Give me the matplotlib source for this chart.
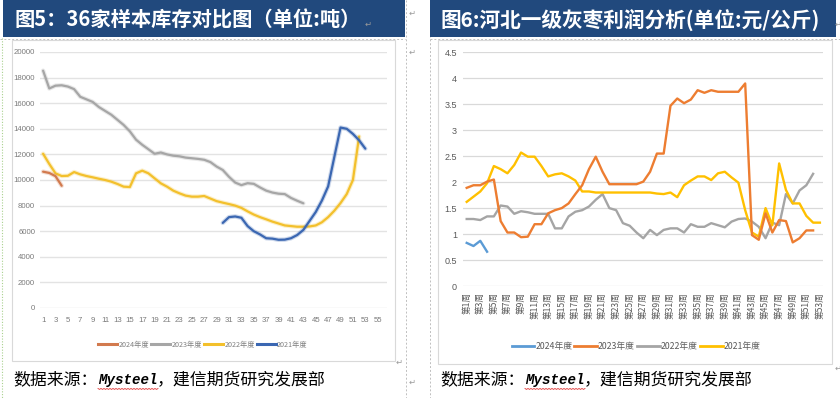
import matplotlib
matplotlib.use('Agg')
import numpy as np
import matplotlib.pyplot as plt
from matplotlib.patches import Rectangle
from matplotlib.lines import Line2D

plt.rcParams['font.family'] = ['Noto Sans CJK SC', 'DejaVu Sans']

# ---------------- data: left chart (36家样本库存, 吨) ----------------
left_series = ['2024年度', '2023年度', '2022年度', '2021年度']
inv_2024_weeks = list(range(1, 5))
inv_2024 = [10650, 10550, 10300, 9550]
inv_2023_weeks = list(range(1, 44))
inv_2023 = [18540, 17150, 17370, 17400, 17300, 17100, 16500, 16300, 16100, 15700,
            15400, 15100, 14700, 14300, 13800, 13150, 12750, 12400, 12050, 12150,
            12000, 11900, 11850, 11750, 11700, 11650, 11580, 11400, 11050, 10780,
            10250, 9800, 9600, 9750, 9700, 9420, 9170, 9020, 8930, 8900,
            8600, 8380, 8180]
inv_2022_weeks = list(range(1, 53))
inv_2022 = [12050, 11250, 10520, 10310, 10330, 10620, 10440, 10310, 10210, 10100,
            10000, 9870, 9690, 9480, 9450, 10520, 10730, 10520, 10130, 9740,
            9480, 9170, 8960, 8780, 8700, 8700, 8750, 8550, 8350, 8230,
            8120, 8000, 7820, 7550, 7300, 7100, 6930, 6750, 6600, 6450,
            6400, 6350, 6350, 6370, 6450, 6700, 7100, 7600, 8200, 8900,
            10000, 13400]
inv_2021_weeks = list(range(30, 54))
inv_2021 = [6650, 7100, 7150, 7050, 6400, 6000, 5750, 5450, 5420, 5330,
            5340, 5450, 5700, 6100, 6800, 7500, 8400, 9500, 11800, 14100,
            14000, 13600, 13100, 12450]
left_xticks = list(range(1, 56, 2))
left_yticks = list(range(0, 20001, 2000))

# ---------------- data: right chart (河北一级灰枣利润, 元/公斤) ----------------
right_series = ['2024年度', '2023年度', '2022年度', '2021年度']
week_labels = ['第%d周' % n for n in range(1, 54)]
p_2024 = [0.83, 0.77, 0.87, 0.66]
p_2023 = [1.89, 1.94, 1.94, 2.01, 2.05, 1.25, 1.03, 1.03, 0.94, 0.95,
          1.19, 1.19, 1.40, 1.46, 1.50, 1.59, 1.77, 1.94, 2.25, 2.49,
          2.20, 1.96, 1.96, 1.96, 1.96, 1.96, 2.01, 2.20, 2.55, 2.55,
          3.47, 3.61, 3.52, 3.59, 3.77, 3.72, 3.77, 3.74, 3.74, 3.74,
          3.74, 3.90, 0.98, 0.89, 1.40, 1.03, 1.27, 1.25, 0.84, 0.92,
          1.07, 1.07]
p_2022 = [1.29, 1.29, 1.27, 1.34, 1.34, 1.55, 1.53, 1.39, 1.44, 1.42,
          1.39, 1.39, 1.39, 1.11, 1.11, 1.34, 1.43, 1.46, 1.53, 1.66,
          1.77, 1.50, 1.46, 1.21, 1.16, 1.03, 0.92, 1.08, 0.98, 1.08,
          1.11, 1.11, 1.03, 1.19, 1.14, 1.14, 1.21, 1.17, 1.13, 1.24,
          1.29, 1.30, 1.24, 1.14, 0.92, 1.22, 1.17, 1.77, 1.59, 1.84,
          1.94, 2.16]
p_2021 = [1.62, 1.72, 1.82, 1.98, 2.31, 2.25, 2.17, 2.33, 2.57, 2.49,
          2.49, 2.31, 2.11, 2.15, 2.17, 2.11, 2.03, 1.82, 1.82, 1.80,
          1.80, 1.80, 1.80, 1.80, 1.80, 1.80, 1.80, 1.80, 1.78, 1.77,
          1.80, 1.71, 1.94, 2.03, 2.11, 2.11, 2.04, 2.17, 2.20, 2.09,
          1.99, 1.46, 1.03, 0.95, 1.50, 1.17, 2.36, 1.85, 1.59, 1.59,
          1.35, 1.22, 1.22]
right_yticks = [0, 0.5, 1, 1.5, 2, 2.5, 3, 3.5, 4, 4.5]

left_title = '图5：36家样本库存对比图（单位:吨）'
right_title = '图6:河北一级灰枣利润分析(单位:元/公斤)'
source_parts = ['数据来源：', 'Mysteel', '，建信期货研究发展部']

# ---------------- figure ----------------
W, H = 840, 398
fig = plt.figure(figsize=(W / 100, H / 100), dpi=100)
fig.patch.set_facecolor('white')

def fx(px):
    return px / W

def fy(py):
    return 1 - py / H

def rect(x0, y0, x1, y1, **kw):
    r = Rectangle((fx(x0), fy(y1)), fx(x1) - fx(x0), fy(y0) - fy(y1),
                  transform=fig.transFigure, **kw)
    fig.patches.append(r)

def pline(xs, ys, **kw):
    fig.add_artist(Line2D([fx(x) for x in xs], [fy(y) for y in ys],
                          transform=fig.transFigure, **kw))

# word-table style dashed borders
pline([0, 405], [38.5, 38.5], color='#bfbfbf', lw=0.7, ls=(0, (2, 2)), zorder=-6)
pline([430, 840], [38.5, 38.5], color='#bfbfbf', lw=0.7, ls=(0, (2, 2)), zorder=-6)
pline([405.5, 405.5], [0, 398], color='#bfbfbf', lw=0.7, ls=(0, (2, 2)), zorder=-6)
pline([430, 430], [0, 398], color='#bfbfbf', lw=0.7, ls=(0, (2, 2)), zorder=-6)
pline([2, 2], [38, 398], color='#a9d18e', lw=0.8, ls=(0, (1, 1.5)), zorder=-6)

# title bars
rect(3, 0, 405, 37, facecolor='#21497d', edgecolor='none', zorder=-5)
rect(430, 0, 836, 37, facecolor='#21497d', edgecolor='none', zorder=-5)
fig.text(fx(14), fy(20), left_title, color='white', fontsize=14.6, fontweight='bold',
         ha='left', va='center')
fig.text(fx(440), fy(20), right_title, color='white', fontsize=14.9, fontweight='bold',
         ha='left', va='center')

# chart boxes
rect(12, 40, 395, 361, facecolor='white', edgecolor='#d9d9d9', lw=0.8, zorder=-4)
rect(438, 40, 832, 364, facecolor='white', edgecolor='#d9d9d9', lw=0.8, zorder=-4)

# paragraph marks
for (x, y) in [(368, 24), (412, 13), (412, 52), (399, 362), (412, 382), (838, 24), (838, 368)]:
    fig.text(fx(x), fy(y), '↵', color='#9a9a9a', fontsize=6, ha='center', va='center',
             family='DejaVu Sans')

# ---------------- left chart ----------------
axL = fig.add_axes([fx(40), fy(308), fx(387) - fx(40), fy(52) - fy(308)])
axL.set_facecolor('none')
axL.set_xlim(0.5, 56.5)
axL.set_ylim(0, 20000)
axL.set_yticks(left_yticks)
axL.set_yticklabels([str(v) for v in left_yticks])
axL.set_xticks(left_xticks)
axL.set_xticklabels([str(v) for v in left_xticks])
axL.yaxis.grid(True, color='#e3e3e3', lw=1.0)
axL.set_axisbelow(True)
for s in axL.spines.values():
    s.set_visible(False)
axL.tick_params(axis='both', length=0, labelsize=5.6, labelcolor='#7a7a7a')
axL.tick_params(axis='y', pad=3.5)
axL.tick_params(axis='x', pad=6.5)
for lab in axL.get_xticklabels() + axL.get_yticklabels():
    lab.set_family(['Liberation Sans Narrow', 'Liberation Sans', 'DejaVu Sans'])

cL = ['#d27a4e', '#a6a6a6', '#f3c02c', '#3b67b2']
for xs, ys, c in [(inv_2023_weeks, inv_2023, cL[1]), (inv_2022_weeks, inv_2022, cL[2]),
                  (inv_2021_weeks, inv_2021, cL[3]), (inv_2024_weeks, inv_2024, cL[0])]:
    axL.plot(xs, ys, color=c, lw=3.2, alpha=0.25, solid_joinstyle='round', solid_capstyle='round')
    axL.plot(xs, ys, color=c, lw=1.6, solid_joinstyle='round', solid_capstyle='round')

hL = [Line2D([], [], color=c, lw=2.2) for c in cL]
legL = fig.legend(hL, left_series, loc='center', bbox_to_anchor=(fx(203), fy(345)),
                  ncol=4, frameon=False, fontsize=5.2, handlelength=2.6,
                  handletextpad=0.2, columnspacing=0.3, borderaxespad=0)
for t in legL.get_texts():
    t.set_color('#808080')

# ---------------- right chart ----------------
axR = fig.add_axes([fx(463.3), fy(286), fx(823.3) - fx(463.3), fy(52.3) - fy(286)])
axR.set_facecolor('none')
axR.set_xlim(0.5, 53.5)
axR.set_ylim(0, 4.5)
axR.set_yticks(right_yticks)
axR.set_yticklabels(['%g' % v for v in right_yticks])
wk = np.arange(1, 54)
axR.set_xticks(wk[::2])
axR.set_xticklabels(week_labels[::2], rotation=90, va='top', ha='center')
axR.yaxis.grid(True, color='#d9d9d9', lw=0.9)
axR.set_axisbelow(True)
for s in axR.spines.values():
    s.set_visible(False)
axR.tick_params(axis='both', length=0, labelcolor='#595959')
axR.tick_params(axis='y', labelsize=6.5, pad=4.5)
axR.tick_params(axis='x', labelsize=6.2, pad=4.5)
for lab in axR.get_yticklabels():
    lab.set_family(['Liberation Sans', 'DejaVu Sans'])

cR = ['#5b9bd5', '#ed7d31', '#a5a5a5', '#ffc000']
axR.plot(wk[:len(p_2022)], p_2022, color=cR[2], lw=1.7)
axR.plot(wk[:len(p_2021)], p_2021, color=cR[3], lw=1.7)
axR.plot(wk[:len(p_2023)], p_2023, color=cR[1], lw=1.7)
axR.plot(wk[:len(p_2024)], p_2024, color=cR[0], lw=1.7)

hR = [Line2D([], [], color=c, lw=2.0) for c in cR]
legR = fig.legend(hR, right_series, loc='center', bbox_to_anchor=(fx(636), fy(347)),
                  ncol=4, frameon=False, fontsize=6.3, handlelength=2.6,
                  handletextpad=0.1, columnspacing=0.25, borderaxespad=0)
for t in legR.get_texts():
    t.set_color('#595959')

# ---------------- source lines ----------------
for x0 in (13, 440):
    fig.text(fx(x0), fy(379), source_parts[0], color='black', fontsize=12.2,
             ha='left', va='center')
    fig.text(fx(x0 + 85), fy(380), source_parts[1], color='black', fontsize=10.2,
             ha='left', va='center', fontweight='bold', style='italic',
             family=['Liberation Mono', 'DejaVu Sans Mono'])
    fig.text(fx(x0 + 144), fy(379), source_parts[2], color='black', fontsize=12.2,
             ha='left', va='center')
    # spell-check squiggle under "Mysteel"
    xs = np.arange(x0 + 85, x0 + 145.1, 1.5)
    ys = 388.5 + 0.9 * (np.arange(len(xs)) % 2)
    pline(xs, ys, color='#e03030', lw=0.6)

fig.savefig('out.png', dpi=100, facecolor='white')
